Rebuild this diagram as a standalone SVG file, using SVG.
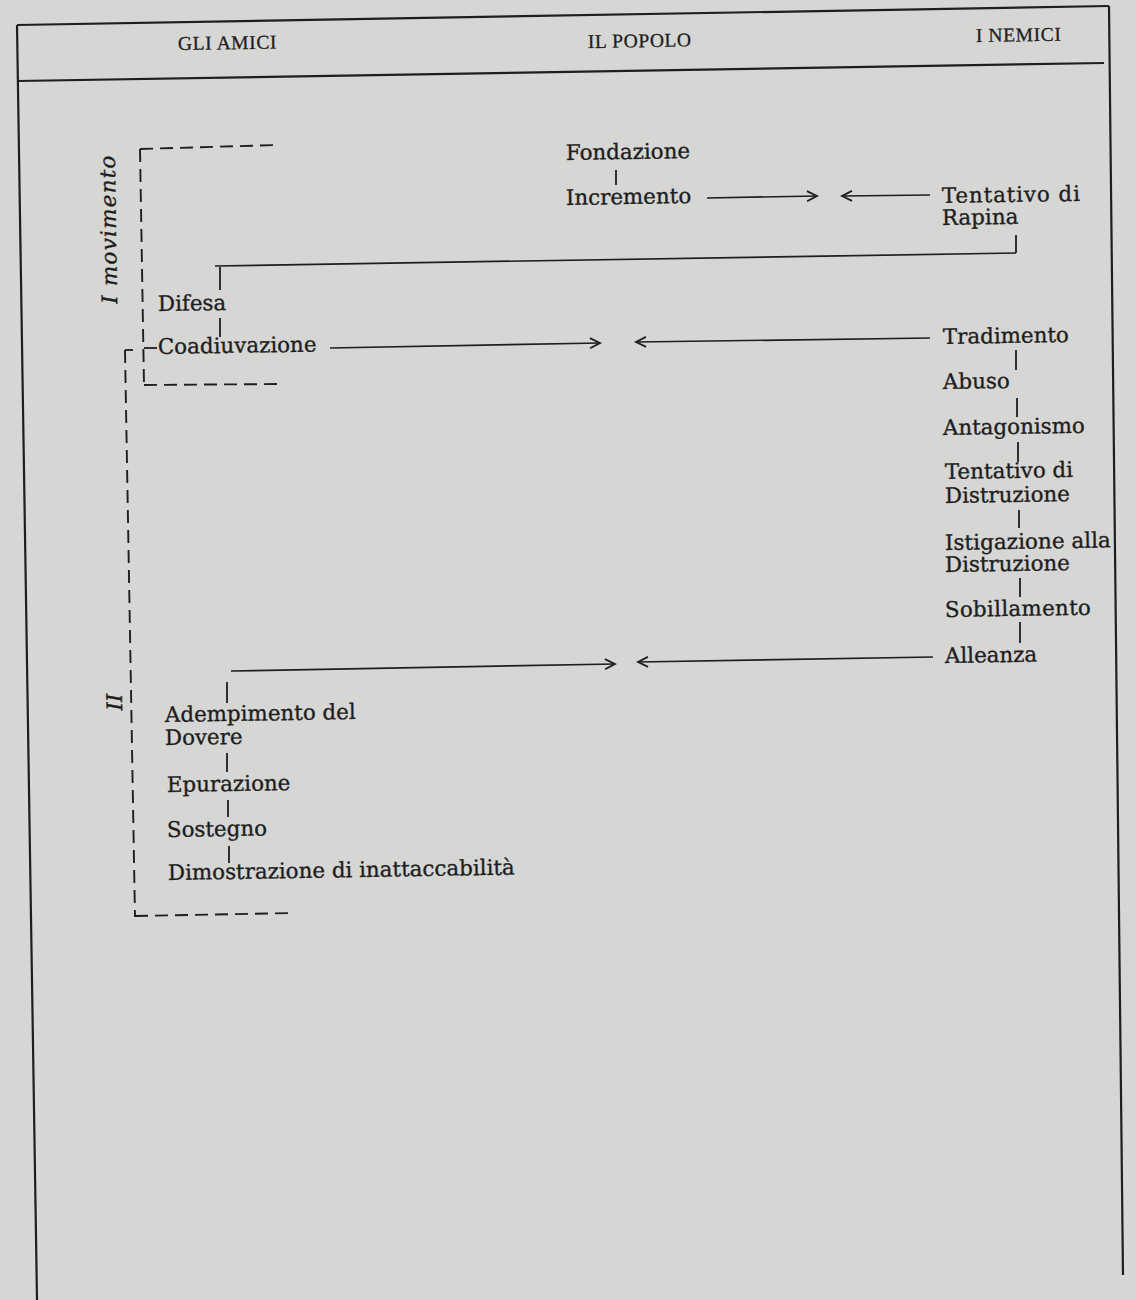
<svg xmlns="http://www.w3.org/2000/svg" width="1136" height="1300" viewBox="0 0 1136 1300">
  <defs>
    <marker id="arr" markerUnits="userSpaceOnUse" markerWidth="14" markerHeight="12" refX="11" refY="6" orient="auto">
      <path d="M1,1 L11,6 L1,11" fill="none" stroke="#1e1e1e" stroke-width="1.8"/>
    </marker>
    <style>
      .frame { stroke: #1e1e1e; stroke-width: 2.2; fill: none; }
      .ln { stroke: #1e1e1e; stroke-width: 1.7; fill: none; }
      .tick { stroke: #1e1e1e; stroke-width: 1.8; fill: none; }
      .dash { stroke: #1e1e1e; stroke-width: 1.9; fill: none; stroke-dasharray: 13 7; }
      .hdr { font-family: "Liberation Serif", "Times New Roman", serif; font-size: 19.5px; fill: #1e1e1e; stroke: #1e1e1e; stroke-width: 0.3px; letter-spacing: 0.6px; }
      .lbl { font-family: "DejaVu Serif", "Liberation Serif", serif; font-size: 21.4px; fill: #1e1e1e; stroke: #1e1e1e; stroke-width: 0.35px; }
      .mov { font-family: "DejaVu Serif", "Liberation Serif", serif; font-style: italic; font-size: 21.5px; fill: #1e1e1e; stroke: #1e1e1e; stroke-width: 0.35px; }
    </style>
  </defs>
  <rect x="0" y="0" width="1136" height="1300" fill="#d6d6d4"/>

  <g id="frame">
    <line class="frame" x1="17" y1="25" x2="1109" y2="6"/>
    <line class="frame" x1="17" y1="25" x2="37" y2="1300"/>
    <line class="frame" x1="1109" y1="6" x2="1123" y2="1275"/>
    <line class="frame" x1="18" y1="81" x2="1104" y2="63"/>
  </g>

  <g id="headers">
    <text class="hdr" x="178" y="50" transform="rotate(-0.9 178 50)">GLI AMICI</text>
    <text class="hdr" x="588" y="48" transform="rotate(-0.9 588 48)">IL POPOLO</text>
    <text class="hdr" x="976" y="42" transform="rotate(-0.9 976 42)">I NEMICI</text>
  </g>

  <g id="movement-labels">
    <text class="mov" text-anchor="middle" letter-spacing="1.2" transform="translate(116,229) rotate(-90.9)">I movimento</text>
    <text class="mov" text-anchor="middle" transform="translate(122,702) rotate(-90.9)">II</text>
  </g>

  <g id="brackets">
    <path class="dash" d="M140,149 L277,145"/>
    <path class="dash" d="M140,149 L144,385"/>
    <path class="dash" d="M144,385 L283,384"/>
    <path class="tick" d="M133,350 L125,350"/>
    <path class="dash" d="M125,350 L135,917"/>
    <path class="dash" d="M135,916 L295,913"/>
  </g>

  <g id="connectors">
    <line class="tick" x1="616" y1="170" x2="616" y2="185"/>
    <line class="ln" x1="707" y1="198" x2="817" y2="196" marker-end="url(#arr)"/>
    <line class="ln" x1="930" y1="195" x2="842" y2="196" marker-end="url(#arr)"/>
    <line class="tick" x1="1016" y1="235" x2="1016" y2="253"/>
    <line class="ln" x1="215" y1="266" x2="1016" y2="253"/>
    <line class="tick" x1="220" y1="267" x2="220" y2="290"/>
    <line class="tick" x1="220" y1="318" x2="220" y2="337"/>
    <line class="tick" x1="144" y1="348" x2="157" y2="348"/>
    <line class="ln" x1="330" y1="348" x2="600" y2="343" marker-end="url(#arr)"/>
    <line class="ln" x1="930" y1="338" x2="636" y2="342" marker-end="url(#arr)"/>
    <line class="tick" x1="1016" y1="350" x2="1016" y2="370"/>
    <line class="tick" x1="1017" y1="398" x2="1017" y2="417"/>
    <line class="tick" x1="1018" y1="442" x2="1018" y2="462"/>
    <line class="tick" x1="1019" y1="510" x2="1019" y2="528"/>
    <line class="tick" x1="1020" y1="578" x2="1020" y2="597"/>
    <line class="tick" x1="1020" y1="622" x2="1020" y2="643"/>
    <line class="ln" x1="231" y1="671" x2="615" y2="664" marker-end="url(#arr)"/>
    <line class="ln" x1="933" y1="657" x2="638" y2="662" marker-end="url(#arr)"/>
    <line class="tick" x1="227" y1="682" x2="227" y2="703"/>
    <line class="tick" x1="227" y1="753" x2="227" y2="772"/>
    <line class="tick" x1="228" y1="800" x2="228" y2="817"/>
    <line class="tick" x1="229" y1="846" x2="229" y2="863"/>
  </g>

  <g id="n-fondazione"><text class="lbl" x="566" y="160" transform="rotate(-0.9 566 160)">Fondazione</text></g>
  <g id="n-incremento"><text class="lbl" x="566" y="205" transform="rotate(-0.9 566 205)">Incremento</text></g>
  <g id="n-tentativo-rapina"><text class="lbl" x="942" y="203" textLength="138" lengthAdjust="spacing" transform="rotate(-0.9 942 203)">Tentativo di</text><text class="lbl" x="942" y="225" transform="rotate(-0.9 942 225)">Rapina</text></g>
  <g id="n-difesa"><text class="lbl" x="158" y="311" transform="rotate(-0.9 158 311)">Difesa</text></g>
  <g id="n-coadiuvazione"><text class="lbl" x="158" y="354" transform="rotate(-0.9 158 354)">Coadiuvazione</text></g>
  <g id="n-tradimento"><text class="lbl" x="943" y="344" transform="rotate(-0.9 943 344)">Tradimento</text></g>
  <g id="n-abuso"><text class="lbl" x="943" y="389" transform="rotate(-0.9 943 389)">Abuso</text></g>
  <g id="n-antagonismo"><text class="lbl" x="943" y="435" transform="rotate(-0.9 943 435)">Antagonismo</text></g>
  <g id="n-tentativo-distruzione"><text class="lbl" x="945" y="479" transform="rotate(-0.9 945 479)">Tentativo di</text><text class="lbl" x="945" y="503" transform="rotate(-0.9 945 503)">Distruzione</text></g>
  <g id="n-istigazione"><text class="lbl" x="945" y="550" textLength="166" lengthAdjust="spacingAndGlyphs" transform="rotate(-0.9 945 550)">Istigazione alla</text><text class="lbl" x="945" y="572" transform="rotate(-0.9 945 572)">Distruzione</text></g>
  <g id="n-sobillamento"><text class="lbl" x="945" y="617" textLength="146" lengthAdjust="spacing" transform="rotate(-0.9 945 617)">Sobillamento</text></g>
  <g id="n-alleanza"><text class="lbl" x="945" y="663" transform="rotate(-0.9 945 663)">Alleanza</text></g>
  <g id="n-adempimento"><text class="lbl" x="165" y="722" transform="rotate(-0.9 165 722)">Adempimento del</text><text class="lbl" x="165" y="745" transform="rotate(-0.9 165 745)">Dovere</text></g>
  <g id="n-epurazione"><text class="lbl" x="167" y="792" transform="rotate(-0.9 167 792)">Epurazione</text></g>
  <g id="n-sostegno"><text class="lbl" x="167" y="837" transform="rotate(-0.9 167 837)">Sostegno</text></g>
  <g id="n-dimostrazione"><text class="lbl" x="168" y="880" transform="rotate(-0.9 168 880)">Dimostrazione di inattaccabilità</text></g>
</svg>
